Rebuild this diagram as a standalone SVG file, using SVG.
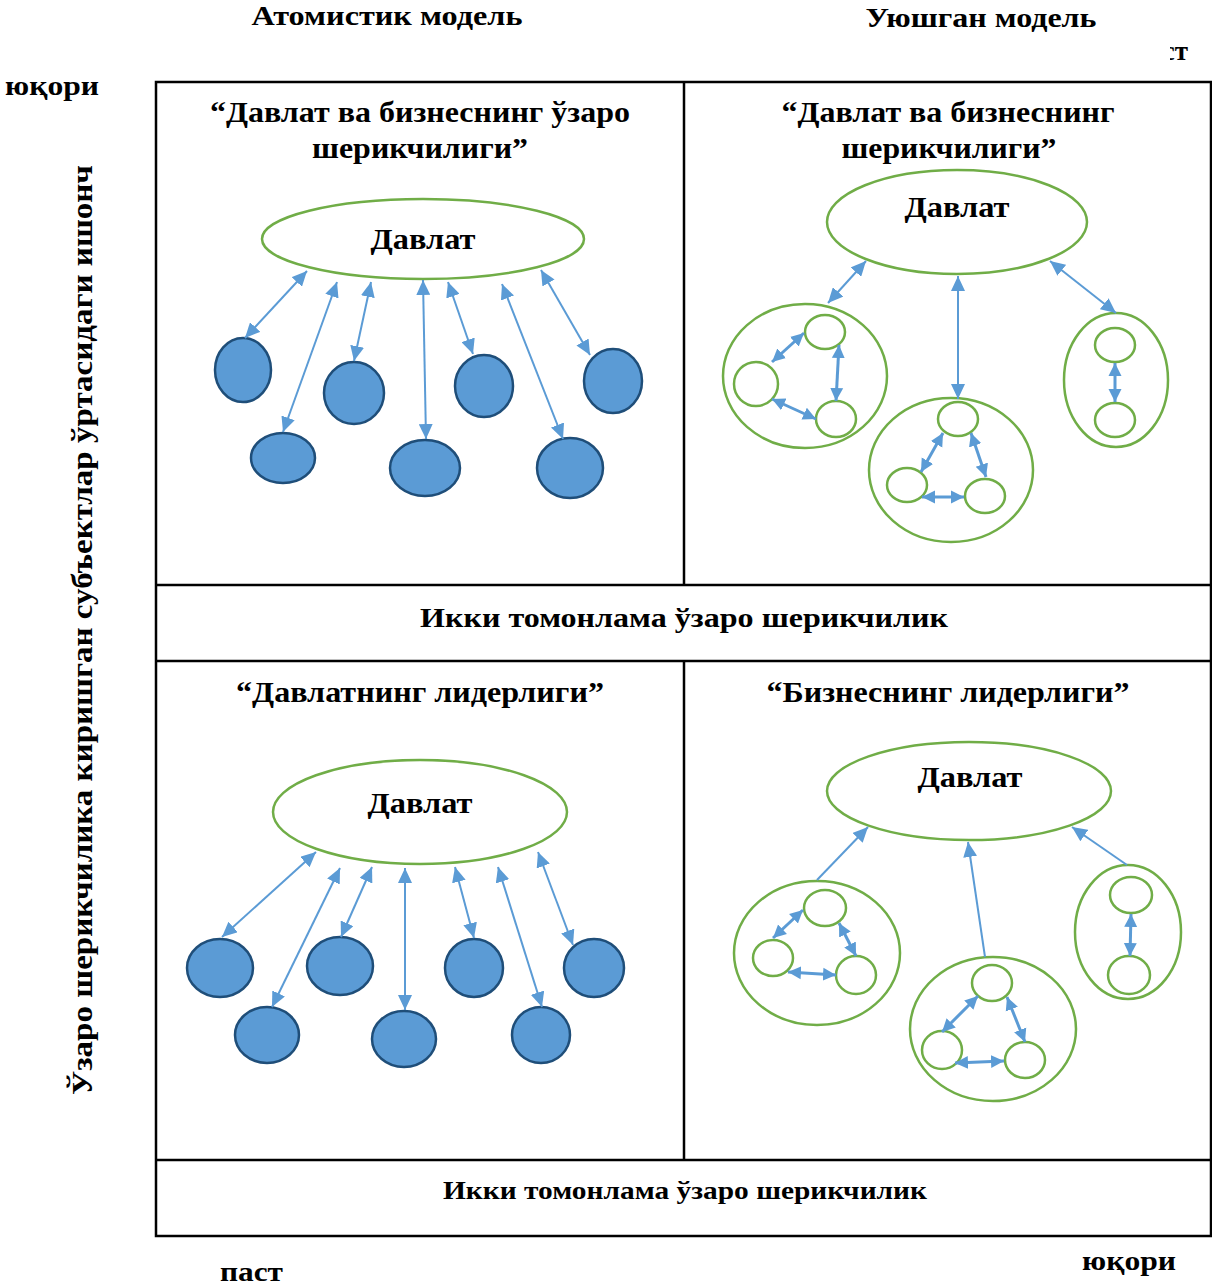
<svg xmlns="http://www.w3.org/2000/svg" width="1212" height="1287" viewBox="0 0 1212 1287">
<style>
text{font-family:"Liberation Serif","Times New Roman",serif;font-weight:bold;fill:#000}
.t26{font-size:27px}
.t28{font-size:29px}
.c{text-anchor:middle}
.frame{fill:none;stroke:#000;stroke-width:2.5}
.big{fill:#fff;stroke:#70AD47;stroke-width:2.5}
.sm{fill:#fff;stroke:#70AD47;stroke-width:2.5}
.dot{fill:#5B9BD5;stroke:#1F4E79;stroke-width:2.5}
.ar{stroke:#5B9BD5;stroke-width:2;fill:none;marker-start:url(#h);marker-end:url(#h)}
.ar2{stroke:#5B9BD5;stroke-width:3;fill:none;marker-start:url(#hs);marker-end:url(#hs)}
.ar1{stroke:#5B9BD5;stroke-width:2;fill:none;marker-end:url(#h)}
</style>
<defs>
<marker id="h" markerUnits="userSpaceOnUse" markerWidth="16" markerHeight="14" refX="15" refY="7" orient="auto-start-reverse"><path d="M0,0 L15,7 L0,14 z" fill="#5B9BD5"/></marker>
<marker id="hs" markerUnits="userSpaceOnUse" markerWidth="14" markerHeight="14" refX="13" refY="7" orient="auto-start-reverse"><path d="M0,0.5 L13,7 L0,13.5 z" fill="#5B9BD5"/></marker>
<clipPath id="cl"><rect x="1170" y="30" width="42" height="40"/></clipPath>
</defs>

<g id="axes-labels">
<text class="t26 c" x="387" y="25" textLength="271" lengthAdjust="spacingAndGlyphs">Атомистик модель</text>
<text class="t26 c" x="981" y="27" textLength="231" lengthAdjust="spacingAndGlyphs">Уюшган модель</text>
<text class="t26" x="1188" y="60" text-anchor="end" clip-path="url(#cl)">ст</text>
<text class="t26" x="5" y="95" textLength="94" lengthAdjust="spacingAndGlyphs">юқори</text>
<text class="t26" x="220" y="1281" textLength="63" lengthAdjust="spacingAndGlyphs">паст</text>
<text class="t26" x="1082" y="1270" textLength="94" lengthAdjust="spacingAndGlyphs">юқори</text>
<text class="t28 c" transform="translate(92,630) rotate(-90)" textLength="930" lengthAdjust="spacingAndGlyphs">Ўзаро шерикчилика киришган  субъектлар  ўртасидаги  ишонч</text>
</g>

<g id="frame">
<rect class="frame" x="156" y="82" width="1055" height="1154"/>
<line class="frame" x1="684" y1="82" x2="684" y2="585"/>
<line class="frame" x1="156" y1="585" x2="1211" y2="585"/>
<line class="frame" x1="156" y1="661" x2="1211" y2="661"/>
<line class="frame" x1="684" y1="661" x2="684" y2="1160"/>
<line class="frame" x1="156" y1="1160" x2="1211" y2="1160"/>
<text class="t26 c" x="684" y="627" textLength="528" lengthAdjust="spacingAndGlyphs">Икки томонлама ўзаро шерикчилик</text>
<text class="t26 c" x="685" y="1199" style="font-size:25px" textLength="484" lengthAdjust="spacingAndGlyphs">Икки томонлама ўзаро шерикчилик</text>
</g>

<g id="q1">
<text class="t28 c" x="420" y="122" textLength="420" lengthAdjust="spacingAndGlyphs">“Давлат ва бизнеснинг ўзаро</text>
<text class="t28 c" x="420" y="158" textLength="216" lengthAdjust="spacingAndGlyphs">шерикчилиги”</text>
<g id="q1-state"><ellipse class="big" cx="423" cy="239" rx="161" ry="40"/><text class="t28 c" x="423" y="249" textLength="105" lengthAdjust="spacingAndGlyphs">Давлат</text></g>
<g id="q1-nodes">
<ellipse class="dot" cx="243" cy="370" rx="28" ry="32"/>
<ellipse class="dot" cx="283" cy="458" rx="32" ry="25"/>
<ellipse class="dot" cx="354" cy="393" rx="30" ry="31"/>
<ellipse class="dot" cx="425" cy="468" rx="35" ry="28"/>
<ellipse class="dot" cx="484" cy="386" rx="29" ry="31"/>
<ellipse class="dot" cx="570" cy="468" rx="33" ry="30"/>
<ellipse class="dot" cx="613" cy="381" rx="29" ry="32"/>
</g>
</g>

<g id="q2">
<text class="t28 c" x="948" y="122" textLength="333" lengthAdjust="spacingAndGlyphs">“Давлат ва бизнеснинг</text>
<text class="t28 c" x="949" y="158" textLength="215" lengthAdjust="spacingAndGlyphs">шерикчилиги”</text>
<g id="q2-state"><ellipse class="big" cx="957" cy="222" rx="130" ry="52"/><text class="t28 c" x="957" y="217" textLength="105" lengthAdjust="spacingAndGlyphs">Давлат</text></g>
<g id="q2-cl1"><ellipse class="big" cx="805" cy="376" rx="82" ry="72"/>
<ellipse class="sm" cx="825" cy="332" rx="20" ry="17"/><ellipse class="sm" cx="756" cy="384" rx="22" ry="22"/><ellipse class="sm" cx="836" cy="419" rx="20" ry="18"/></g>
<g id="q2-cl2"><ellipse class="big" cx="951" cy="470" rx="82" ry="72"/>
<ellipse class="sm" cx="958" cy="419" rx="20" ry="17"/><ellipse class="sm" cx="907" cy="485" rx="20" ry="17"/><ellipse class="sm" cx="985" cy="496" rx="20" ry="17"/></g>
<g id="q2-cl3"><ellipse class="big" cx="1116" cy="380" rx="52" ry="67"/>
<ellipse class="sm" cx="1115" cy="345" rx="20" ry="17"/><ellipse class="sm" cx="1115" cy="420" rx="20" ry="17"/></g>
</g>

<g id="q3">
<text class="t28 c" x="420" y="702" textLength="368" lengthAdjust="spacingAndGlyphs">“Давлатнинг лидерлиги”</text>
<g id="q3-state"><ellipse class="big" cx="420" cy="812" rx="147" ry="52"/><text class="t28 c" x="420" y="813" textLength="105" lengthAdjust="spacingAndGlyphs">Давлат</text></g>
<g id="q3-nodes">
<ellipse class="dot" cx="220" cy="968" rx="33" ry="29"/>
<ellipse class="dot" cx="267" cy="1035" rx="32" ry="28"/>
<ellipse class="dot" cx="340" cy="966" rx="33" ry="29"/>
<ellipse class="dot" cx="404" cy="1039" rx="32" ry="28"/>
<ellipse class="dot" cx="474" cy="968" rx="29" ry="29"/>
<ellipse class="dot" cx="541" cy="1035" rx="29" ry="28"/>
<ellipse class="dot" cx="594" cy="968" rx="30" ry="29"/>
</g>
</g>

<g id="q4">
<text class="t28 c" x="948" y="702" textLength="363" lengthAdjust="spacingAndGlyphs">“Бизнеснинг лидерлиги”</text>
<g id="q4-state"><ellipse class="big" cx="969" cy="791" rx="142" ry="49"/><text class="t28 c" x="970" y="787" textLength="105" lengthAdjust="spacingAndGlyphs">Давлат</text></g>
<g id="q4-cl1"><ellipse class="big" cx="817" cy="953" rx="83" ry="72"/>
<ellipse class="sm" cx="825" cy="908" rx="21" ry="18"/><ellipse class="sm" cx="773" cy="958" rx="20" ry="18"/><ellipse class="sm" cx="856" cy="975" rx="20" ry="19"/></g>
<g id="q4-cl2"><ellipse class="big" cx="993" cy="1029" rx="83" ry="72"/>
<ellipse class="sm" cx="992" cy="983" rx="20" ry="18"/><ellipse class="sm" cx="942" cy="1050" rx="20" ry="19"/><ellipse class="sm" cx="1025" cy="1060" rx="20" ry="18"/></g>
<g id="q4-cl3"><ellipse class="big" cx="1128" cy="932" rx="53" ry="67"/>
<ellipse class="sm" cx="1131" cy="895" rx="21" ry="18"/><ellipse class="sm" cx="1129" cy="975" rx="21" ry="19"/></g>
</g>

<g id="connectors">
<line class="ar" x1="307" y1="271" x2="245" y2="338"/>
<line class="ar" x1="337" y1="282" x2="283" y2="432"/>
<line class="ar" x1="371" y1="282" x2="354" y2="361"/>
<line class="ar" x1="423" y1="280" x2="426" y2="439"/>
<line class="ar" x1="448" y1="282" x2="473" y2="354"/>
<line class="ar" x1="502" y1="284" x2="563" y2="439"/>
<line class="ar" x1="541" y1="270" x2="590" y2="355"/>
<line class="ar" x1="866" y1="261" x2="828" y2="303"/>
<line class="ar" x1="958" y1="276" x2="958" y2="399"/>
<line class="ar" x1="1050" y1="261" x2="1116" y2="313"/>
<line class="ar2" x1="804" y1="333" x2="772" y2="362"/>
<line class="ar2" x1="839" y1="345" x2="836" y2="401"/>
<line class="ar2" x1="772" y1="399" x2="816" y2="419"/>
<line class="ar2" x1="943" y1="433" x2="921" y2="472"/>
<line class="ar2" x1="971" y1="433" x2="986" y2="477"/>
<line class="ar2" x1="922" y1="497" x2="964" y2="497"/>
<line class="ar2" x1="1115" y1="363" x2="1115" y2="402"/>
<line class="ar" x1="316" y1="852" x2="222" y2="937"/>
<line class="ar" x1="340" y1="868" x2="272" y2="1007"/>
<line class="ar" x1="372" y1="867" x2="341" y2="937"/>
<line class="ar" x1="405" y1="868" x2="405" y2="1010"/>
<line class="ar" x1="455" y1="867" x2="474" y2="938"/>
<line class="ar" x1="498" y1="867" x2="542" y2="1007"/>
<line class="ar" x1="538" y1="852" x2="573" y2="945"/>
<line class="ar1" x1="817" y1="880" x2="868" y2="827"/>
<line class="ar1" x1="985" y1="957" x2="968" y2="842"/>
<line class="ar1" x1="1127" y1="865" x2="1072" y2="827"/>
<line class="ar2" x1="803" y1="910" x2="773" y2="938"/>
<line class="ar2" x1="839" y1="923" x2="856" y2="956"/>
<line class="ar2" x1="788" y1="972" x2="836" y2="975"/>
<line class="ar2" x1="978" y1="996" x2="942" y2="1032"/>
<line class="ar2" x1="1007" y1="997" x2="1025" y2="1042"/>
<line class="ar2" x1="955" y1="1063" x2="1004" y2="1061"/>
<line class="ar2" x1="1131" y1="914" x2="1130" y2="956"/>
</g>
</svg>
